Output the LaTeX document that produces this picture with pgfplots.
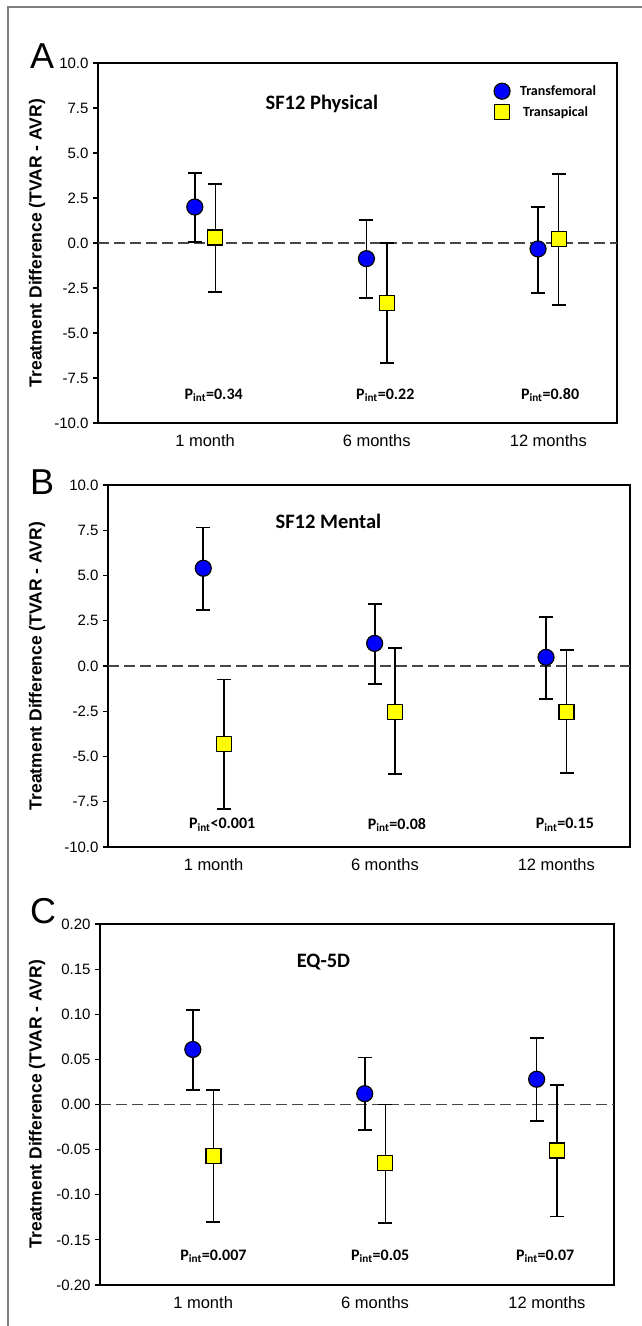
\documentclass[border=0pt]{standalone}
\usepackage{pgfplots}
\pgfplotsset{compat=1.18}
\usepackage{pgfplotstable}
\usepackage{fontspec}
\setmainfont{Liberation Sans}
\newfontfamily\calib{Carlito}

\definecolor{tfblue}{RGB}{0,0,255}
\definecolor{tayellow}{RGB}{255,255,0}
\definecolor{zerogray}{RGB}{70,70,70}

% x  y  ep  em
\pgfplotstableread{
x y ep em
0.94 2.00 1.88 1.94
1.94 -0.87 2.13 2.18
2.94 -0.33 2.34 2.46
}\AtfA
\pgfplotstableread{
x y ep em
1.06 0.31 2.98 3.03
2.06 -3.33 3.33 3.32
3.06 0.22 3.62 3.66
}\AtaA
\pgfplotstableread{
x y ep em
0.94 5.40 2.25 2.30
1.94 1.25 2.18 2.26
2.94 0.48 2.21 2.29
}\AtfB
\pgfplotstableread{
x y ep em
1.06 -4.33 3.59 3.58
2.06 -2.53 3.51 3.42
3.06 -2.53 3.40 3.39
}\AtaB
\pgfplotstableread{
x y ep em
0.94 0.061 0.044 0.045
1.94 0.012 0.040 0.040
2.94 0.028 0.046 0.046
}\AtfC
\pgfplotstableread{
x y ep em
1.06 -0.057 0.073 0.073
2.06 -0.065 0.065 0.066
3.06 -0.051 0.073 0.073
}\AtaC

\pgfplotsset{
  panel/.style={
    scale only axis, anchor=south west, clip=false,
    axis line style={black, line width=1.3pt},
    xtick={1,2,3}, xticklabels={1 month,6 months,12 months},
    xtick style={draw=none},
    xticklabel style={font=\fontsize{16.5}{16.5}\selectfont, yshift=-3pt},
    tick align=outside, major tick length=5pt, ytick pos=left,
    ytick style={black, line width=1.2pt},
    yticklabel style={font=\fontsize{15}{15}\selectfont, xshift=-1pt},
    /pgf/number format/assume math mode=true,
  },
  tfplot/.style={only marks, mark=*, mark size=8pt,
    mark options={fill=tfblue, draw=black, line width=1.2pt},
    error bars/.cd, y dir=both, y explicit,
    error bar style={black, line width=1.7pt},
    error mark options={rotate=90, mark size=7pt, black, line width=1.7pt}},
  taplot/.style={only marks, mark=square*, mark size=7.5pt,
    mark options={fill=tayellow, draw=black, line width=1.2pt},
    error bars/.cd, y dir=both, y explicit,
    error bar style={black, line width=1.7pt},
    error mark options={rotate=90, mark size=7pt, black, line width=1.7pt}},
}

\newcommand{\ptxt}{\calib\bfseries\fontsize{16}{16}\selectfont}
\newcommand{\ttxt}{\calib\bfseries\fontsize{20.5}{20.5}\selectfont}

\begin{document}
\begin{tikzpicture}
\path[use as bounding box] (0,0) rectangle (642pt,-1326pt);
\draw[gray, line width=1.2pt] (8pt,-1326pt) -- (8pt,-7pt) -- (642pt,-7pt);

% ---------------- Panel A ----------------
\begin{axis}[panel, at={(98pt,-423pt)}, width=519pt, height=360pt,
  xmin=0.376, xmax=3.40, ymin=-10, ymax=10,
  ytick={-10,-7.5,-5,-2.5,0,2.5,5,7.5,10},
  yticklabel style={/pgf/number format/.cd, fixed, fixed zerofill, precision=1},
  legend style={at={(rel axis cs:0.757,0.95)}, anchor=north west, draw=none, fill=none,
    font=\calib\bfseries\fontsize{14}{14}\selectfont, row sep=5pt},
  legend cell align=left]
\draw[zerogray, line width=1.3pt, dash pattern=on 11pt off 5pt] (axis cs:0.376,0) -- (axis cs:3.40,0);
\addplot+[tfplot] table[x=x, y=y, y error plus=ep, y error minus=em]{\AtfA};
\addlegendentry{\hspace*{8pt}Transfemoral}
\addplot+[taplot] table[x=x, y=y, y error plus=ep, y error minus=em]{\AtaA};
\addlegendentry{\hspace*{11pt}Transapical}
\node[font=\ttxt] at (axis cs:1.68,7.7) {SF12 Physical};
\node[font=\ptxt] at (axis cs:1.05,-8.45) {P\textsubscript{int}=0.34};
\node[font=\ptxt] at (axis cs:2.05,-8.45) {P\textsubscript{int}=0.22};
\node[font=\ptxt] at (axis cs:3.01,-8.45) {P\textsubscript{int}=0.80};
\end{axis}

% ---------------- Panel B ----------------
\begin{axis}[panel, at={(108pt,-847pt)}, width=522pt, height=362pt,
  xmin=0.384, xmax=3.43, ymin=-10, ymax=10,
  ytick={-10,-7.5,-5,-2.5,0,2.5,5,7.5,10},
  yticklabel style={/pgf/number format/.cd, fixed, fixed zerofill, precision=1}]
\draw[zerogray, line width=1.3pt, dash pattern=on 11pt off 5pt] (axis cs:0.384,0) -- (axis cs:3.43,0);
\addplot+[tfplot] table[x=x, y=y, y error plus=ep, y error minus=em]{\AtfB};
\addplot+[taplot] table[x=x, y=y, y error plus=ep, y error minus=em]{\AtaB};
\node[font=\ttxt] at (axis cs:1.67,8.0) {SF12 Mental};
\node[font=\ptxt] at (axis cs:1.05,-8.78) {P\textsubscript{int}<0.001};
\node[font=\ptxt] at (axis cs:2.07,-8.78) {P\textsubscript{int}=0.08};
\node[font=\ptxt] at (axis cs:3.05,-8.78) {P\textsubscript{int}=0.15};
\end{axis}

% ---------------- Panel C ----------------
\begin{axis}[panel, at={(100pt,-1285pt)}, width=514pt, height=361pt,
  xmin=0.40, xmax=3.39, ymin=-0.2, ymax=0.2,
  ytick={-0.2,-0.15,-0.1,-0.05,0,0.05,0.1,0.15,0.2},
  yticklabel style={/pgf/number format/.cd, fixed, fixed zerofill, precision=2}]
\draw[zerogray, line width=1.3pt, dash pattern=on 11pt off 5pt] (axis cs:0.40,0) -- (axis cs:3.39,0);
\addplot+[tfplot] table[x=x, y=y, y error plus=ep, y error minus=em]{\AtfC};
\addplot+[taplot] table[x=x, y=y, y error plus=ep, y error minus=em]{\AtaC};
\node[font=\ttxt] at (axis cs:1.70,0.158) {EQ-5D};
\node[font=\ptxt] at (axis cs:1.06,-0.168) {P\textsubscript{int}=0.007};
\node[font=\ptxt] at (axis cs:2.03,-0.168) {P\textsubscript{int}=0.05};
\node[font=\ptxt] at (axis cs:2.99,-0.168) {P\textsubscript{int}=0.07};
\end{axis}

% y labels and panel letters
\foreach \yc in {243,666,1104}{
  \node[rotate=90, font=\bfseries\fontsize{17.5}{17.5}\selectfont] at (37pt,-\yc pt) {Treatment Difference (TVAR - AVR)};
}
\node[anchor=base west, font=\fontsize{36}{36}\selectfont, inner sep=0pt] at (30pt,-68pt) {A};
\node[anchor=base west, font=\fontsize{36}{36}\selectfont, inner sep=0pt] at (30pt,-494pt) {B};
\node[anchor=base west, font=\fontsize{36}{36}\selectfont, inner sep=0pt] at (30pt,-923pt) {C};
\end{tikzpicture}
\end{document}
